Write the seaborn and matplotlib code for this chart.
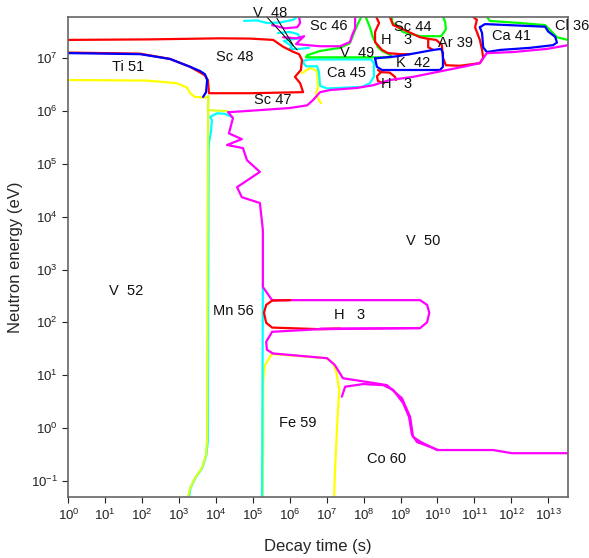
import numpy as np
import matplotlib
matplotlib.use("Agg")
import matplotlib.pyplot as plt
import matplotlib.ticker as mticker
import seaborn as sns

# all values are log10(decay time / s) and log10(neutron energy / eV)

# --- Sc 48 / Ti 51 / V 52 boundaries (left, top) ---
red_sc48_t = [0, 2.21, 4.11, 4.92, 5.55, 5.82, 6.09, 6.25, 6.33, 6.30, 6.14, 6.28, 6.36, 4.92, 3.81, 3.78, 3.70, 3.30, 2.75, 1.94, 0]
red_sc48_e = [7.35, 7.36, 7.38, 7.375, 7.35, 7.22, 7.125, 7.08, 6.97, 6.78, 6.65, 6.53, 6.36, 6.34, 6.34, 6.59, 6.68, 6.84, 6.99, 7.09, 7.11]

blue_ti51_t = [0, 1.94, 2.75, 3.30, 3.57, 3.70, 3.76, 3.73, 3.65]
blue_ti51_e = [7.10, 7.08, 6.99, 6.84, 6.76, 6.70, 6.59, 6.36, 6.27]

yellow_ti51_t = [0, 2.12, 2.93, 3.21, 3.30, 3.43, 3.66, 3.79]
yellow_ti51_e = [6.59, 6.58, 6.53, 6.45, 6.34, 6.27, 6.26, 6.27]

# Sc 47 box + V 52 / Mn 56 boundary
yellow_v52_t = [4.30, 3.78, 3.79, 3.78, 3.77, 3.76, 3.73, 3.62, 3.43, 3.30, 3.24]
yellow_v52_e = [6.00, 6.02, 6.29, 5.26, 3.37, -0.23, -0.51, -0.76, -0.95, -1.14, -1.31]

cyan_v52_t = [4.43, 4.24, 4.03, 3.84, 3.89, 3.86, 3.81, 3.80, 3.79, 3.78, 3.74, 3.63, 3.44, 3.31, 3.27]
cyan_v52_e = [5.89, 5.95, 5.96, 5.89, 5.83, 5.59, 5.40, 5.26, 2.42, -0.23, -0.51, -0.76, -0.95, -1.14, -1.31]

yellow_sc47_t = [6.33, 6.55, 6.74, 6.76, 6.71, 6.79, 6.85]
yellow_sc47_e = [6.72, 6.82, 6.76, 6.44, 6.34, 6.21, 6.15]

# --- V 48, Sc 46, V 49, Ca 45 (top middle) ---
cyan_v48a_t = [4.76, 5.11, 5.38, 5.73, 6.09, 6.20]
cyan_v48a_e = [7.71, 7.72, 7.67, 7.68, 7.73, 7.79]
cyan_v48b_t = [5.68, 6.00, 6.22, 6.28, 5.95, 5.84, 6.06, 6.00, 6.28, 6.52]
cyan_v48b_e = [7.48, 7.50, 7.46, 7.38, 7.35, 7.33, 7.23, 7.18, 7.18, 7.20]
mag_v48_t = [5.52, 5.87, 6.20, 6.28, 6.25]
mag_v48_e = [7.63, 7.57, 7.59, 7.67, 7.79]
mag_sc46_t = [5.82, 6.17, 6.39, 6.25, 6.17, 6.82, 7.36, 7.63, 7.69, 7.77, 7.77]
mag_sc46_e = [7.40, 7.38, 7.42, 7.33, 7.27, 7.23, 7.23, 7.31, 7.44, 7.57, 7.79]

green_v49a_t = [8.06, 8.17, 8.25, 8.39, 8.50, 8.74]
green_v49a_e = [7.78, 7.59, 7.40, 7.21, 7.14, 7.06]
green_v49b_t = [7.93, 7.79, 7.63, 7.36, 6.82, 6.47, 6.44, 7.63, 8.74]
green_v49b_e = [7.78, 7.57, 7.29, 7.20, 7.14, 7.06, 7.02, 7.02, 7.02]

cyan_ca45_t = [6.33, 6.44, 6.74, 6.79, 6.82, 7.01, 7.96, 8.17, 8.28, 8.28, 8.20, 6.55, 6.33]
cyan_ca45_e = [6.95, 6.85, 6.85, 6.74, 6.48, 6.43, 6.46, 6.53, 6.66, 6.91, 6.98, 6.98, 6.95]

# --- H 3, Sc 44, K 42, Ar 39, Ca 41, Cl 36 (top right) ---
red_h3a_t = [8.34, 8.42, 8.31, 8.31, 8.50, 8.66, 8.99, 9.26]
red_h3a_e = [7.79, 7.67, 7.50, 7.31, 7.16, 7.10, 7.08, 7.08]
red_h3b_t = [8.71, 8.80, 9.04, 9.53, 9.75, 9.75, 9.89]
red_h3b_e = [7.79, 7.63, 7.56, 7.40, 7.37, 7.21, 7.16]
red_ar39a_t = [9.75, 9.97, 10.12, 10.15, 10.23, 10.61, 11.15]
red_ar39a_e = [7.37, 7.35, 7.25, 7.01, 6.87, 6.86, 6.91]
red_ar39b_t = [10.96, 11.07, 11.02, 11.15, 11.21, 11.24, 11.15]
red_ar39b_e = [7.79, 7.73, 7.59, 7.35, 7.16, 7.01, 6.91]
red_h3c_t = [8.39, 8.47, 8.36, 8.39, 8.55]
red_h3c_e = [6.78, 6.74, 6.66, 6.57, 6.53]
red_h3d_t = [8.47, 8.71, 8.85, 8.88]
red_h3d_e = [6.74, 6.73, 6.65, 6.59]

green_sc44_t = [8.77, 8.77, 8.90, 9.07, 9.53, 10.10, 10.23, 10.21, 10.15]
green_sc44_e = [7.79, 7.69, 7.61, 7.50, 7.42, 7.42, 7.55, 7.69, 7.79]
green_cl36_t = [11.34, 11.42, 12.24, 12.92, 13.05, 13.24, 13.54]
green_cl36_e = [7.79, 7.71, 7.67, 7.63, 7.54, 7.40, 7.35]

blue_k42_t = [8.31, 8.36, 8.50, 10.07, 10.15, 10.15, 10.10, 9.89, 9.26, 8.90, 8.31]
blue_k42_e = [7.00, 6.84, 6.78, 6.78, 6.84, 7.10, 7.18, 7.16, 7.08, 7.04, 7.00]
blue_ca41_t = [11.15, 11.29, 12.92, 13.00, 13.19, 13.24, 13.13, 12.51, 11.70, 11.34, 11.24, 11.21, 11.15]
blue_ca41_e = [7.59, 7.65, 7.60, 7.51, 7.41, 7.30, 7.25, 7.20, 7.16, 7.12, 7.21, 7.48, 7.59]

# --- V 50 upper boundary ---
mag_v50_t = [4.33, 5.19, 6.00, 6.47, 6.63, 6.82, 7.09, 7.82, 8.25, 8.71, 9.34, 10.26, 10.69, 11.15, 11.34, 12.05, 12.97, 13.54]
mag_v50_e = [5.98, 6.02, 6.06, 6.11, 6.21, 6.36, 6.40, 6.44, 6.49, 6.59, 6.65, 6.78, 6.84, 6.91, 7.10, 7.12, 7.18, 7.25]

# --- Mn 56 / V 50 boundary and H 3 box ---
mag_mn56_t = [4.33, 4.46, 4.35, 4.70, 4.30, 4.73, 4.84, 5.19, 4.57, 4.70, 5.19, 5.27, 5.27, 5.52,
              9.53, 9.72, 9.78, 9.72, 9.53, 6.82]
mag_mn56_e = [5.98, 5.87, 5.58, 5.47, 5.36, 5.30, 5.07, 4.85, 4.56, 4.37, 4.26, 3.75, 2.67, 2.42,
              2.42, 2.33, 2.18, 2.00, 1.89, 1.88]
red_h3box_t = [6.01, 5.52, 5.36, 5.30, 5.36, 5.52, 6.82, 7.36]
red_h3box_e = [2.42, 2.41, 2.33, 2.18, 1.99, 1.90, 1.87, 1.88]
cyan_mn56_t = [5.27, 5.25]
cyan_mn56_e = [2.74, -1.31]

# --- Fe 59 / Co 60 ---
mag_co60a_t = [9.53, 6.82, 5.52, 5.36, 5.38, 5.54, 7.01, 7.22, 7.44, 8.09, 8.63, 9.04, 9.26, 9.34, 9.53, 9.99, 11.51, 12.02, 13.54]
mag_co60a_e = [1.89, 1.87, 1.82, 1.63, 1.48, 1.41, 1.32, 1.19, 0.94, 0.87, 0.81, 0.56, 0.21, -0.17, -0.26, -0.42, -0.42, -0.48, -0.48]
mag_co60b_t = [7.41, 7.50, 7.99, 8.53, 8.80, 9.07, 9.23, 9.31, 9.45, 9.88, 10.02]
mag_co60b_e = [0.59, 0.78, 0.83, 0.81, 0.72, 0.47, 0.21, -0.13, -0.27, -0.38, -0.42]
yellow_fe59_t = [7.20, 7.23, 7.29, 7.34, 7.27, 7.18, 7.00, 5.51, 5.33, 5.28, 5.27]
yellow_fe59_e = [-1.31, -0.73, 0.15, 0.72, 1.03, 1.22, 1.32, 1.40, 1.19, 0.90, -1.31]

# dominant nuclide labels
labels = ["V  48", "Sc 46", "H   3", "Sc 44", "Ar 39", "Ca 41", "Cl 36", "V  49", "Sc 48", "Ti 51",
          "Ca 45", "K  42", "H   3", "Sc 47", "V  50", "V  52", "Mn 56", "H   3", "Fe 59", "Co 60"]
label_t = [5.47, 7.06, 8.90, 9.34, 10.48, 12.02, 13.65, 7.82, 4.51, 1.62,
           7.55, 9.34, 8.90, 5.54, 9.61, 1.56, 4.46, 7.63, 6.22, 8.61]
label_e = [7.86, 7.61, 7.35, 7.59, 7.29, 7.42, 7.61, 7.10, 7.02, 6.84,
           6.72, 6.91, 6.51, 6.21, 3.54, 2.59, 2.21, 2.14, 0.09, -0.59]

# V 48 leader lines (start, end)
lead_t = [[5.37, 6.20], [5.65, 6.09]]
lead_e = [[7.79, 7.16], [7.76, 7.25]]

x_decades = list(range(0, 14))
y_decades = list(range(-1, 8))

sns.set_style("ticks")
plt.rcParams["font.family"] = ["Liberation Sans", "DejaVu Sans"]
plt.rcParams["axes.unicode_minus"] = False

fig = plt.figure(figsize=(5.89, 5.58), dpi=100)
ax = fig.add_axes([0.1161, 0.1093, 0.8477, 0.8608])

curves = [
    (yellow_ti51_t, yellow_ti51_e, "#ffff00"),
    (cyan_v52_t, cyan_v52_e, "#00ffff"),
    (yellow_v52_t, yellow_v52_e, "#d8ff20"),
    (yellow_sc47_t, yellow_sc47_e, "#ffff00"),
    (yellow_fe59_t, yellow_fe59_e, "#ffff00"),
    (cyan_mn56_t, cyan_mn56_e, "#00ffff"),
    (cyan_v48a_t, cyan_v48a_e, "#00ffff"),
    (cyan_v48b_t, cyan_v48b_e, "#00ffff"),
    (cyan_ca45_t, cyan_ca45_e, "#00ffff"),
    (green_v49a_t, green_v49a_e, "#00ff00"),
    (green_v49b_t, green_v49b_e, "#00ff00"),
    (green_sc44_t, green_sc44_e, "#00ff00"),
    (green_cl36_t, green_cl36_e, "#00ff00"),
    (red_sc48_t, red_sc48_e, "#ff0000"),
    (blue_ti51_t, blue_ti51_e, "#0000ff"),
    (red_h3a_t, red_h3a_e, "#ff0000"),
    (red_h3b_t, red_h3b_e, "#ff0000"),
    (red_ar39a_t, red_ar39a_e, "#ff0000"),
    (red_ar39b_t, red_ar39b_e, "#ff0000"),
    (red_h3c_t, red_h3c_e, "#ff0000"),
    (red_h3d_t, red_h3d_e, "#ff0000"),
    (blue_k42_t, blue_k42_e, "#0000ff"),
    (blue_ca41_t, blue_ca41_e, "#0000ff"),
    (mag_v48_t, mag_v48_e, "#ff00ff"),
    (mag_sc46_t, mag_sc46_e, "#ff00ff"),
    (mag_v50_t, mag_v50_e, "#ff00ff"),
    (mag_mn56_t, mag_mn56_e, "#ff00ff"),
    (red_h3box_t, red_h3box_e, "#ff0000"),
    (mag_co60a_t, mag_co60a_e, "#ff00ff"),
    (mag_co60b_t, mag_co60b_e, "#ff00ff"),
]

for t, e, c in curves:
    sns.lineplot(x=10 ** np.array(t), y=10 ** np.array(e), sort=False, estimator=None,
                 color=c, lw=1.6, ax=ax)

for t, e in zip(lead_t, lead_e):
    ax.plot(10 ** np.array(t), 10 ** np.array(e), color="black", lw=0.7, clip_on=False)

ax.set_xscale("log")
ax.set_yscale("log")
ax.set_xlim(1, 10 ** 13.53)
ax.set_ylim(10 ** -1.31, 10 ** 7.79)

ax.xaxis.set_major_locator(mticker.FixedLocator([10.0 ** d for d in x_decades]))
ax.yaxis.set_major_locator(mticker.FixedLocator([10.0 ** d for d in y_decades]))
ax.xaxis.set_minor_locator(mticker.NullLocator())
ax.yaxis.set_minor_locator(mticker.NullLocator())
ax.set_xticklabels([rf"$\mathdefault{{10^{{{d}}}}}$" for d in x_decades])
ax.set_yticklabels([rf"$\mathdefault{{10^{{{d}}}}}$" for d in y_decades])
ax.tick_params(labelsize=9.5, colors="#222222", length=4, width=0.8)

for s in ax.spines.values():
    s.set_color("#666666")
    s.set_linewidth(1.2)

for name, t, e in zip(labels, label_t, label_e):
    ax.text(10 ** t, 10 ** e, name, ha="center", va="center", fontsize=10.5, color="#111111")

ax.set_xlabel("Decay time (s)", fontsize=12, labelpad=12)
ax.set_ylabel("Neutron energy (eV)", fontsize=12, labelpad=6)

fig.savefig("out.png", dpi=100)
